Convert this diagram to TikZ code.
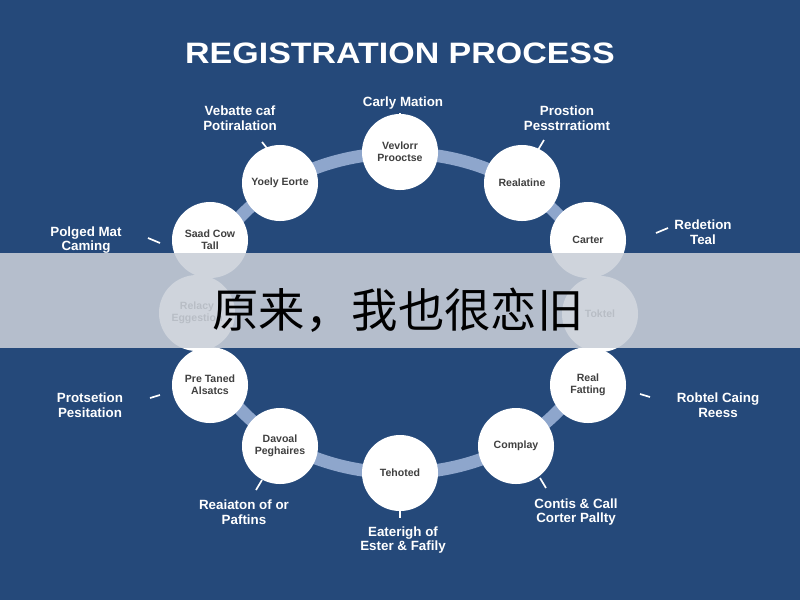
\documentclass[tikz,border=0pt]{standalone}
\usepackage{fontspec}
\setmainfont{Liberation Sans}
\newfontfamily\cjk{Noto Sans CJK SC}
\definecolor{bgblue}{HTML}{25497A}
\definecolor{ringblue}{HTML}{8EA6CC}
\definecolor{bandgray}{HTML}{C9CFD8}
\begin{document}
\begin{tikzpicture}[x=0.025cm,y=-0.025cm,>=latex]
    \tikzset{
        stage/.style={circle, fill=white, minimum size=19mm, inner sep=1pt, align=center, font=\fontsize{7.5}{8.5}\selectfont\bfseries, text=black!75},
        outer/.style={align=center, font=\fontsize{9.5}{10.5}\selectfont\bfseries, text=white},
        tick/.style={white, line width=1.2pt}
    }
    \fill[bgblue] (0,0) rectangle (800,600);
    \useasboundingbox (0,0) rectangle (800,600);
    \node[font=\fontsize{21}{23}\selectfont\bfseries, text=white, xscale=1.15] (title) at (400,53) {REGISTRATION PROCESS};
    % ring
    \draw[ringblue, line width=9pt] (400,313) ellipse [x radius=200, y radius=160];
    \begin{scope}[every node/.style={stage}]
        \node (n1) at (400,152) {Vevlorr\\Prooctse};
        \node (n2) at (522,183) {Realatine};
        \node (n3) at (588,240) {Carter};
        \node (n4) at (600,314) {Toktel};
        \node (n5) at (588,385) {Real\\Fatting};
        \node (n6) at (516,446) {Complay};
        \node (n7) at (400,473) {Tehoted};
        \node (n8) at (280,446) {Davoal\\Peghaires};
        \node (n9) at (210,385) {Pre Taned\\Alsatcs};
        \node (n10) at (197,313) {Relacy\\Eggestion};
        \node (n11) at (210,240) {Saad Cow\\Tall};
        \node (n12) at (280,183) {Yoely Eorte};
    \end{scope}
    % labels
    \node[outer] (l1) at (403,103) {Carly Mation};
    \node[outer] (l2) at (567,118) {Prostion\\Pesstrratiomt};
    \node[outer] (l3) at (703,232) {Redetion\\Teal};
    \node[outer] (l5) at (718,405) {Robtel Caing\\Reess};
    \node[outer] (l6) at (576,512) {Contis \& Call\\Corter Pallty};
    \node[outer] (l7) at (403,540) {Eaterigh of\\Ester \& Fafily};
    \node[outer] (l8) at (244,512) {Reaiaton of or\\Paftins};
    \node[outer] (l9) at (90,405) {Protsetion\\Pesitation};
    \node[outer] (l11) at (86,240) {Polged Mat\\Caming};
    \node[outer] (l12) at (240,118) {Vebatte caf\\Potiralation};
    \draw[tick] (400,113) -- (400,122);
    \draw[tick] (544,140) -- (538,150);
    \draw[tick] (668,228) -- (656,233);
    \draw[tick] (640,394) -- (650,397);
    \draw[tick] (540,478) -- (546,488);
    \draw[tick] (400,508) -- (400,518);
    \draw[tick] (262,480) -- (256,490);
    \draw[tick] (150,398) -- (160,395);
    \draw[tick] (148,238) -- (160,243);
    \draw[tick] (262,142) -- (270,152);
    % band
    \fill[bandgray, opacity=0.88] (0,253) rectangle (800,348);
    \node[font=\cjk\fontsize{33}{35}\selectfont, text=black] (band) at (398,310) {原来，我也很恋旧};
\end{tikzpicture}
\end{document}
